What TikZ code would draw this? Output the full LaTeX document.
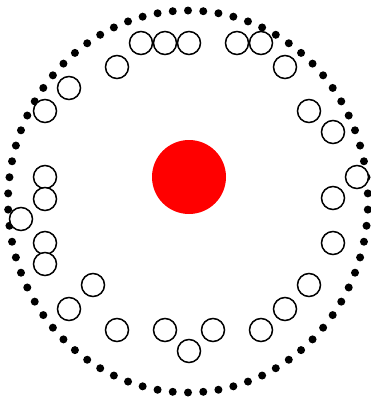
\documentclass[tikz,border=0pt]{standalone}
\begin{document}
\begin{tikzpicture}[x=1pt,y=-1pt,
  ring/.style={circle,draw=black,line width=1.5pt,minimum size=23pt,inner sep=0pt,fill=white},
  dotmark/.style={circle,fill=black,minimum size=8pt,inner sep=0pt},
  core/.style={circle,fill=red,minimum size=74pt,inner sep=0pt}]
\useasboundingbox (0,0) rectangle (370,402);
\foreach \i in {0,...,73}{
  \pgfmathsetmacro{\ang}{90+\i*4.864865}
  \node[dotmark] (d\i) at ({188+180*cos(\ang)},{201.5-191*sin(\ang)}) {};
}
\node[core] (c) at (189,177) {};
\foreach \x/\y [count=\k] in {141/43,165/43,189/43,237/43,261/43,117/67,285/67,69/88,45/111,309/111,333/132,
  45/177,45/199,21/219,45/243,45/264,357/177,333/198,333/243,
  93/285,69/309,117/330,165/330,213/330,189/351,261/330,285/309,309/285}{
  \node[ring] (r\k) at (\x,\y) {};
}
\end{tikzpicture}
\end{document}
